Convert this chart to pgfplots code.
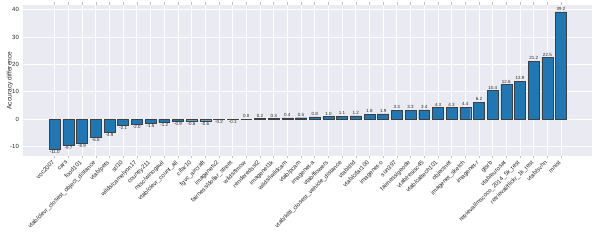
\documentclass[border=0pt]{standalone}
\usepackage{fontspec}
\setmainfont{Liberation Sans}
\usepackage{pgfplots}
\pgfplotsset{compat=1.18}
\definecolor{bgc}{RGB}{234,234,242}
\definecolor{barc}{RGB}{31,119,180}
\definecolor{txtc}{RGB}{38,38,38}
\begin{document}
\begin{tikzpicture}
\begin{axis}[
  at={(0,0)}, anchor=south west,
  scale only axis, width=569pt, height=151pt,
  xmin=-2.29, xmax=39.29, ymin=-13.5, ymax=41.7,
  axis background/.style={fill=bgc},
  axis line style={draw=none},
  grid=major, grid style={white, line width=0.7pt},
  ytick={-10,0,10,20,30,40},
  xtick={0,...,37},
  xticklabels={voc2007,cars,food101,vtab/clevr\_closest\_object\_distance,vtab/pets,stl10,wilds/camelyon17,country211,misc/winogavil,vtab/clevr\_count\_all,cifar10,fgvc\_aircraft,imagenetv2,fairness/dollar\_street,wilds/fmow,renderedsst2,imagenet1k,wilds/iwildcam,vtab/pcam,imagenet-a,vtab/flowers,vtab/kitti\_closest\_vehicle\_distance,vtab/dtd,vtab/cifar100,imagenet-o,sun397,fairness/geode,vtab/resisc45,vtab/caltech101,objectnet,imagenet\_sketch,imagenet-r,gtsrb,vtab/eurosat,retrieval/mscoco\_2014\_5k\_test,retrieval/flickr\_1k\_test,vtab/svhn,mnist},
  tick align=outside, major tick length=2.5pt,
  xtick style={draw=black!25, line width=0.5pt},
  ytick style={draw=none},
  xticklabel style={xshift=-3pt, rotate=45, anchor=north east, inner sep=1pt, font=\fontsize{6}{7}\selectfont, text=txtc},
  yticklabel style={font=\fontsize{6}{7}\selectfont, text=txtc, xshift=1.5pt},
  /pgf/number format/assume math mode=true,
  ylabel={Accuracy difference},
  ylabel style={at={(axis description cs:-0.0236,0.5)}, anchor=center, font=\fontsize{6.6}{7.5}\selectfont, text=txtc},
  ybar, bar width=0.8,
  visualization depends on={rawy \as \rawy},
  nodes near coords={\pgfmathprintnumber[fixed,fixed zerofill,precision=1,assume math mode=true]{\rawy}},
  every node near coord/.append style={font=\fontsize{4.5}{5}\selectfont, text=txtc, inner sep=1pt,
    /utils/exec={\pgfmathparse{\rawy<0 ? 1 : 0}},
    anchor={\ifdim\pgfmathresult pt>0.5pt north\else south\fi}},
]
\addplot[fill=barc, draw=black!75, line width=0.4pt] coordinates {
(0,-11.0) (1,-9.7) (2,-8.9) (3,-6.6) (4,-4.9) (5,-2.1) (6,-2.0) (7,-1.5) (8,-1.2) (9,-0.9)
(10,-0.6) (11,-0.6) (12,-0.2) (13,-0.1) (14,0.0) (15,0.2) (16,0.3) (17,0.4) (18,0.5) (19,0.8)
(20,1.0) (21,1.1) (22,1.2) (23,1.8) (24,1.9) (25,3.3) (26,3.3) (27,3.4) (28,4.3) (29,4.3)
(30,4.4) (31,6.2) (32,10.4) (33,12.6) (34,13.9) (35,21.2) (36,22.5) (37,39.2)
};
\end{axis}
\pgfresetboundingbox
\path[use as bounding box] (-23.4pt,-84pt) rectangle (574.6pt,156pt);
\end{tikzpicture}
\end{document}
